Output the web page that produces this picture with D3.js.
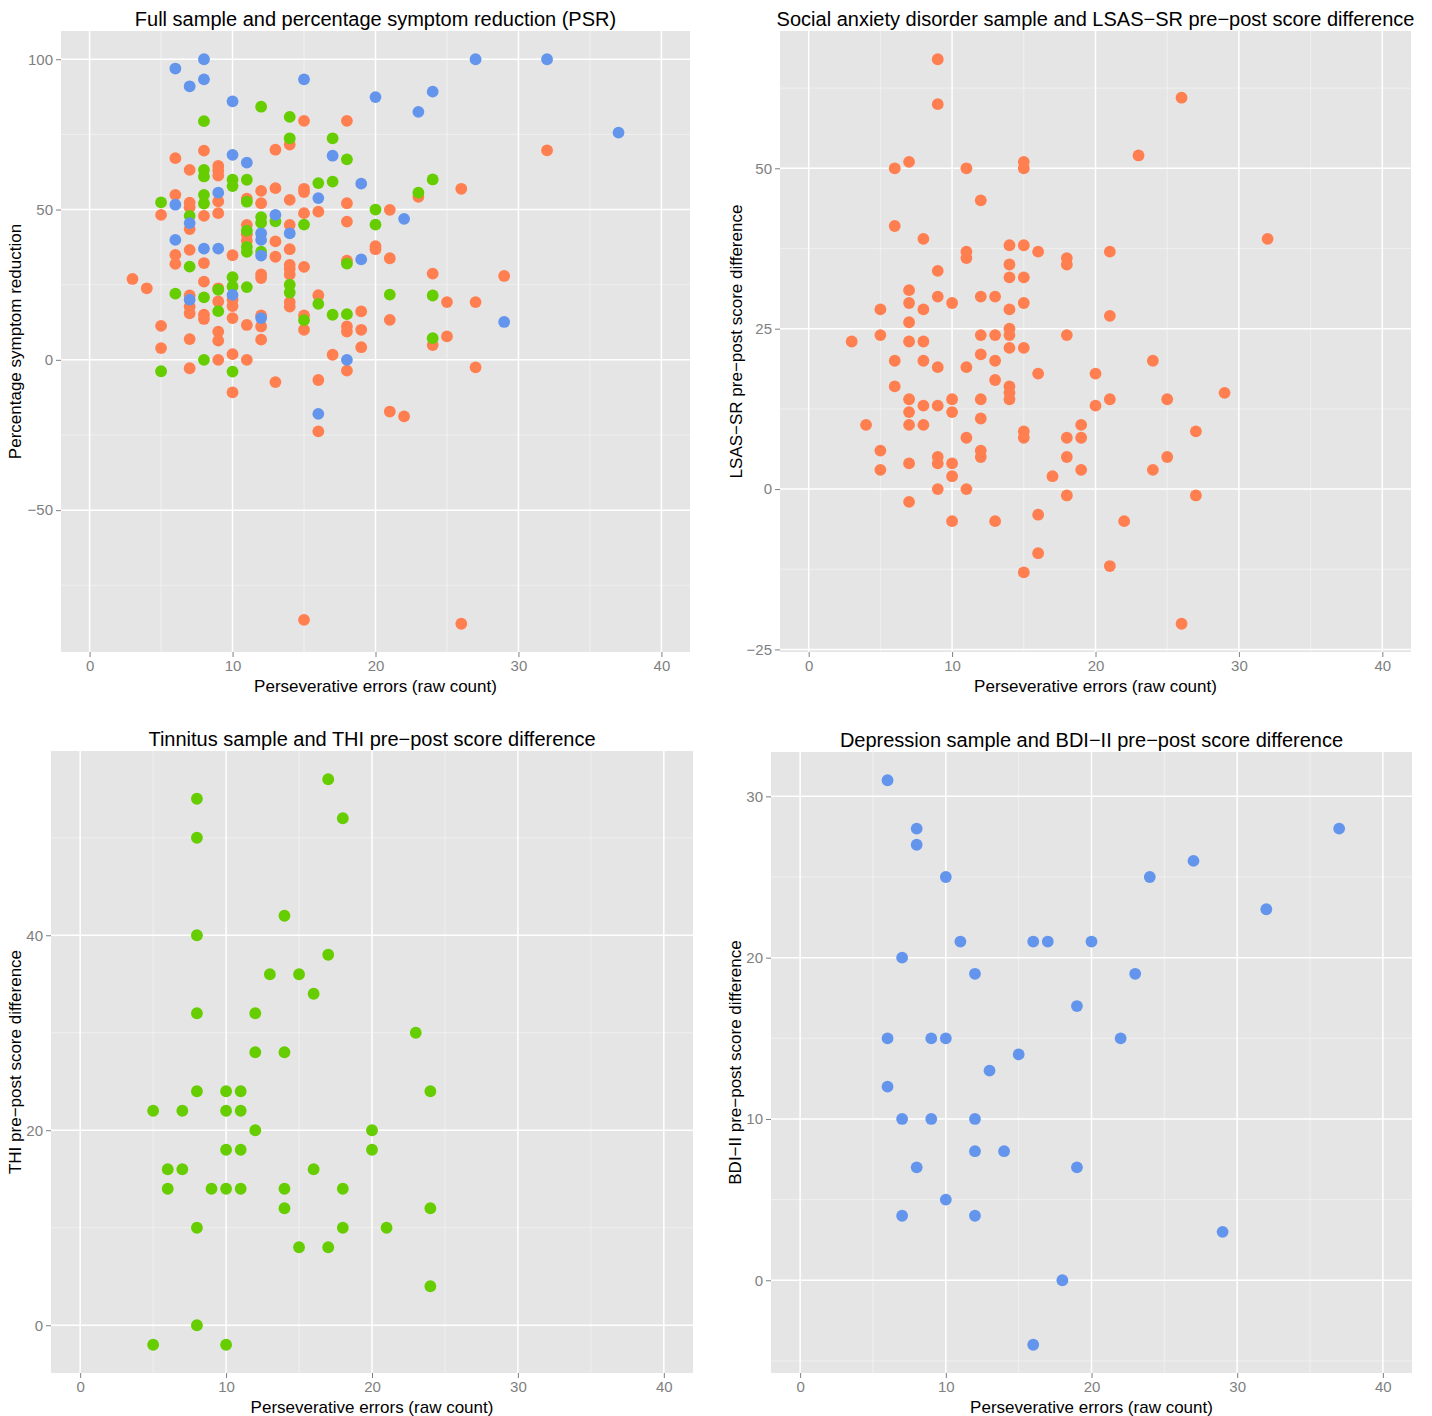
<!DOCTYPE html>
<html>
<head>
<meta charset="utf-8">
<script src="https://cdn.jsdelivr.net/npm/d3@7"></script>
<style>
  html, body { margin: 0; padding: 0; background: #ffffff; }
  svg text { font-family: "Liberation Sans", Arial, Helvetica, sans-serif; }
</style>
</head>
<body>
<svg id="chart" width="1432" height="1416"></svg>
<script>
// ---------------- DATA ----------------
const xTicks = [0, 10, 20, 30, 40];
const xMinor = [5, 15, 25, 35];
const xLimits = [0, 40];

// Social anxiety disorder sample: perseverative errors & LSAS-SR pre-post difference
const sadErrors = [9,9,26,6,7,11,15,15,23,12,6,8,32,11,11,14,15,16,18,18,21,9,14,14,15,7,7,9,10,12,13,15,5,8,14,21,7,14,3,5,7,8,12,13,14,18,14,15,12,6,8,13,24,9,11,16,20,13,6,14,14,29,7,10,12,14,21,25,8,9,20,7,10,12,4,7,8,19,15,27,11,15,18,19,5,12,9,12,18,25,7,9,10,5,19,24,10,17,9,11,18,27,7,10,13,16,22,16,21,15,26];
const sadDiff   = [67,60,61,50,51,50,51,50,52,45,41,39,39,37,36,38,38,37,36,35,37,34,35,33,33,31,29,30,29,30,30,29,28,28,28,27,26,25,23,24,23,23,24,24,24,24,22,22,21,20,20,20,20,19,19,18,18,17,16,16,15,15,14,14,14,14,14,14,13,13,13,12,12,11,10,10,10,10,9,9,8,8,8,8,6,6,5,5,5,5,4,4,4,3,3,3,2,2,0,0,-1,-1,-2,-5,-5,-4,-5,-10,-12,-13,-21];

// Tinnitus sample: perseverative errors & THI pre-post difference
const tinErrors = [17,8,18,8,14,8,17,13,15,16,8,12,23,12,14,8,10,11,24,5,7,10,11,12,20,10,11,20,6,7,16,6,9,10,11,14,18,14,24,8,18,21,15,17,24,8,5,10];
const tinDiff   = [56,54,52,50,42,40,38,36,36,34,32,32,30,28,28,24,24,24,24,22,22,22,22,20,20,18,18,18,16,16,16,14,14,14,14,14,14,12,12,10,10,10,8,8,4,0,-2,-2];

// Depression sample: perseverative errors & BDI-II pre-post difference
const depErrors = [6,8,8,37,27,10,24,32,11,16,17,20,7,12,23,19,6,9,10,22,15,13,6,7,9,12,12,14,8,19,10,7,12,29,18,16];
const depDiff   = [31,28,27,28,26,25,25,23,21,21,21,21,20,19,19,17,15,15,15,15,14,13,12,10,10,10,8,8,7,7,5,4,4,3,0,-4];

// Full sample: percentage symptom reduction (PSR) per group
const sadPsrErrors = [3,4,5,5,5,6,6,6,6,7,7,7,7,7,7,7,7,7,7,8,8,8,8,8,8,9,9,9,9,9,9,9,9,9,9,10,10,10,10,10,10,11,11,11,11,11,11,12,12,12,12,12,12,12,13,13,13,13,13,14,14,14,14,14,14,14,14,14,15,15,15,15,15,15,15,15,16,16,16,16,17,18,18,18,18,18,18,18,19,19,19,20,20,21,21,21,21,22,23,24,24,25,25,26,26,27,27,29,32];
const sadPsr       = [26.9,23.8,48.2,11.3,3.9,67.1,54.9,34.9,31.9,63.2,52.3,50.8,43.5,36.6,21.4,17.7,15.5,6.9,-2.8,69.6,47.9,32.2,26,15,13.6,64.5,63,61.3,52.7,48.8,23.8,19.4,9.4,6.4,0,34.8,20,17.9,13.9,1.9,-10.8,53.6,44.9,41.8,39.6,11.6,0,56.2,52.1,28.4,27.2,14.8,11.1,6.7,69.9,57.1,39.4,34.3,-7.4,71.6,53.2,44.9,36.8,31.6,30.2,28.4,19.2,17.7,79.5,56.9,55.8,48.8,30.9,14.8,10,-86.5,49.3,21.5,-6.7,-23.8,1.7,79.5,52.1,46,33,11.1,9.4,-3.6,16.1,10,4.2,37.8,36.8,49.9,33.8,13.3,-17.2,-18.8,54.2,28.7,4.9,19.2,7.8,56.9,-87.8,19.2,-2.5,27.9,69.7];

const tinPsrErrors = [5,5,6,7,7,8,8,8,8,8,8,8,9,9,10,10,10,10,10,11,11,11,11,11,11,12,12,12,12,13,14,14,14,14,15,15,16,16,17,17,17,18,18,18,20,20,21,23,24,24,24];
const tinPsr       = [52.4,-3.8,22,47.9,31,79.4,63.2,61,54.9,52,20.8,0,23.3,16.2,59.9,57.8,27.5,24.4,-3.9,59.9,52.6,43,37.6,35.9,24.2,84.2,47.5,45.6,36,46.1,80.8,73.7,25,22.4,45,13.2,58.8,18.6,73.7,59.3,15,66.7,32,15.2,50,45,21.7,55.6,60,21.4,7.2];

const depPsrErrors = [6,6,6,7,7,7,8,8,8,9,9,10,10,10,11,12,12,12,12,13,14,15,16,16,17,18,19,19,20,22,23,24,27,29,32,37];
const depPsr       = [96.9,51.6,39.9,91,45.5,20,100,93.3,37,55.6,37,86,68.2,21.6,65.6,42.1,39.9,34.7,13.9,48.2,42.1,93.3,53.8,-18,67.9,0,58.6,33.4,87.4,46.9,82.5,89.2,100,12.6,100,75.6];

const colors = { sad: "#FF7F50", tin: "#66CD00", dep: "#6495ED" };

// ---------------- DRAWING ----------------
const svg = d3.select("#chart");
const fmt = v => (v < 0 ? "\u2212" + Math.abs(v) : String(v));

function expand(ext) {
  const r = ext[1] - ext[0];
  return [ext[0] - 0.05 * r, ext[1] + 0.05 * r];
}

function drawPanel(cfg) {
  const g = svg.append("g");
  const allY = cfg.series.flatMap(s => s.y);
  const x = d3.scaleLinear().domain(expand(xLimits)).range([cfg.left, cfg.right]);
  const y = d3.scaleLinear().domain(expand(d3.extent(allY))).range([cfg.bottom, cfg.top]);

  // panel background
  g.append("rect")
    .attr("x", cfg.left).attr("y", cfg.top)
    .attr("width", cfg.right - cfg.left).attr("height", cfg.bottom - cfg.top)
    .attr("fill", "#E5E5E5");

  // minor grid
  const yDom = y.domain();
  const yMinorIn = cfg.yMinor.filter(v => v >= yDom[0] && v <= yDom[1]);
  g.selectAll(".vminor").data(xMinor).enter().append("line")
    .attr("x1", d => x(d)).attr("x2", d => x(d))
    .attr("y1", cfg.top).attr("y2", cfg.bottom)
    .attr("stroke", "#F2F2F2").attr("stroke-width", 0.8);
  g.selectAll(".hminor").data(yMinorIn).enter().append("line")
    .attr("x1", cfg.left).attr("x2", cfg.right)
    .attr("y1", d => y(d)).attr("y2", d => y(d))
    .attr("stroke", "#F2F2F2").attr("stroke-width", 0.8);
  // major grid
  g.selectAll(".vmajor").data(xTicks).enter().append("line")
    .attr("x1", d => x(d)).attr("x2", d => x(d))
    .attr("y1", cfg.top).attr("y2", cfg.bottom)
    .attr("stroke", "#FFFFFF").attr("stroke-width", 1.5);
  g.selectAll(".hmajor").data(cfg.yTicks).enter().append("line")
    .attr("x1", cfg.left).attr("x2", cfg.right)
    .attr("y1", d => y(d)).attr("y2", d => y(d))
    .attr("stroke", "#FFFFFF").attr("stroke-width", 1.5);

  // axes via d3 axis generators
  const xAxis = d3.axisBottom(x).tickValues(xTicks).tickFormat(fmt).tickSize(5).tickPadding(3);
  const yAxis = d3.axisLeft(y).tickValues(cfg.yTicks).tickFormat(fmt).tickSize(5).tickPadding(3);
  const gx = g.append("g").attr("transform", `translate(0,${cfg.bottom})`).call(xAxis);
  const gy = g.append("g").attr("transform", `translate(${cfg.left},0)`).call(yAxis);
  [gx, gy].forEach(a => {
    a.select(".domain").remove();
    a.selectAll(".tick line").attr("stroke", "#7F7F7F").attr("stroke-width", 1);
    a.selectAll(".tick text").attr("fill", "#7F7F7F")
      .style("font-size", "15px")
      .style("font-family", "'Liberation Sans', Arial, Helvetica, sans-serif");
  });

  // points
  cfg.series.forEach(s => {
    const pts = s.x.map((v, i) => ({ x: v, y: s.y[i] }));
    g.append("g").selectAll("circle").data(pts).enter().append("circle")
      .attr("cx", d => x(d.x)).attr("cy", d => y(d.y))
      .attr("r", 5.9).attr("fill", s.color);
  });

  // title
  g.append("text")
    .attr("x", (cfg.left + cfg.right) / 2).attr("y", cfg.top - 5)
    .attr("text-anchor", "middle").attr("fill", "#000")
    .style("font-size", "20px").text(cfg.title);
  // x label
  g.append("text")
    .attr("x", (cfg.left + cfg.right) / 2).attr("y", cfg.bottom + 40)
    .attr("text-anchor", "middle").attr("fill", "#000")
    .style("font-size", "17px").text("Perseverative errors (raw count)");
  // y label
  g.append("text")
    .attr("transform", `translate(${cfg.ylabX},${(cfg.top + cfg.bottom) / 2}) rotate(-90)`)
    .attr("dy", "0.35em")
    .attr("text-anchor", "middle").attr("fill", "#000")
    .style("font-size", "17px").text(cfg.ylab);
}

drawPanel({
  left: 61, right: 690, top: 31, bottom: 652, ylabX: 15,
  yTicks: [-50, 0, 50, 100], yMinor: [-100, -75, -25, 25, 75],
  title: "Full sample and percentage symptom reduction (PSR)",
  ylab: "Percentage symptom reduction",
  series: [
    { x: sadPsrErrors, y: sadPsr, color: colors.sad },
    { x: tinPsrErrors, y: tinPsr, color: colors.tin },
    { x: depPsrErrors, y: depPsr, color: colors.dep }
  ]
});

drawPanel({
  left: 780, right: 1411, top: 31, bottom: 652, ylabX: 736,
  yTicks: [-25, 0, 25, 50], yMinor: [-12.5, 12.5, 37.5, 62.5],
  title: "Social anxiety disorder sample and LSAS\u2212SR pre\u2212post score difference",
  ylab: "LSAS\u2212SR pre\u2212post score difference",
  series: [{ x: sadErrors, y: sadDiff, color: colors.sad }]
});

drawPanel({
  left: 51, right: 693, top: 751, bottom: 1373, ylabX: 15,
  yTicks: [0, 20, 40], yMinor: [-10, 10, 30, 50],
  title: "Tinnitus sample and THI pre\u2212post score difference",
  ylab: "THI pre\u2212post score difference",
  series: [{ x: tinErrors, y: tinDiff, color: colors.tin }]
});

drawPanel({
  left: 771, right: 1412, top: 752, bottom: 1373, ylabX: 735,
  yTicks: [0, 10, 20, 30], yMinor: [-5, 5, 15, 25],
  title: "Depression sample and BDI\u2212II pre\u2212post score difference",
  ylab: "BDI\u2212II pre\u2212post score difference",
  series: [{ x: depErrors, y: depDiff, color: colors.dep }]
});
</script>
</body>
</html>
